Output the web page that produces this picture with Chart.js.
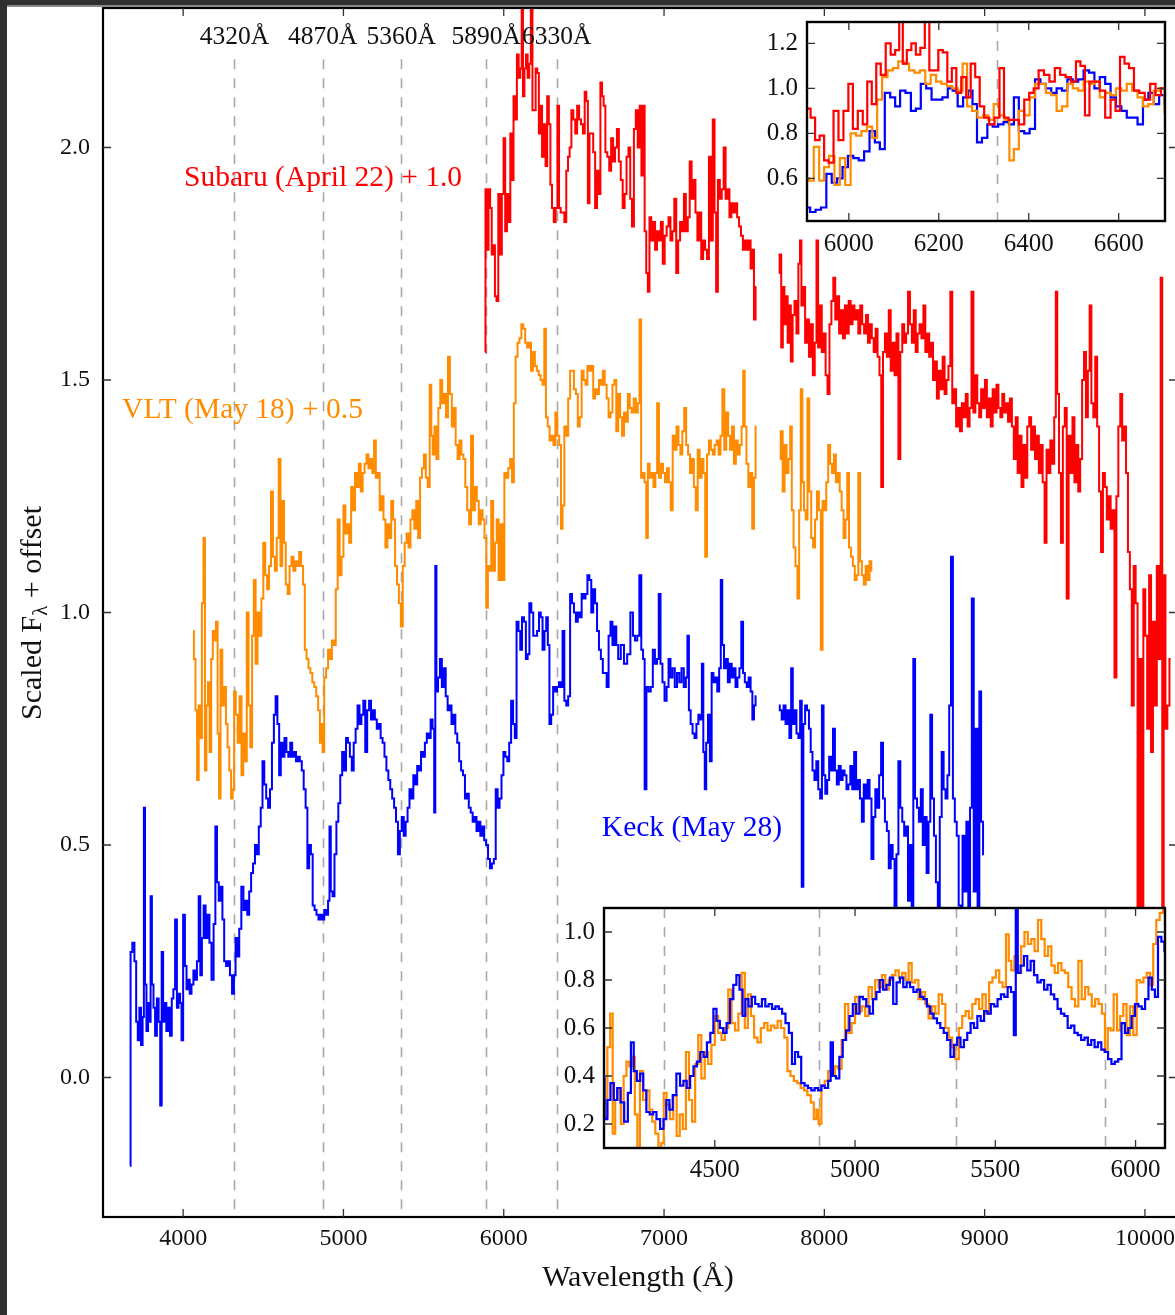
<!DOCTYPE html>
<html>
<head>
<meta charset="utf-8">
<script src="https://cdn.jsdelivr.net/npm/chart.js@4.4.1/dist/chart.umd.min.js"></script>
<style>
  html, body { margin: 0; padding: 0; background: #ffffff; overflow: hidden; width: 1175px; height: 1315px; }
  #wrap { position: relative; width: 1175px; height: 1315px; overflow: hidden; background: #ffffff; }
  canvas { position: absolute; }
  #mainC { left: 0; top: 0; }
  #insetB { left: 540px; top: 890px; }
  #insetT { left: 750px; top: 10px; }
  #barTop { position: absolute; left: 0; top: 0; width: 1175px; height: 5px; background: #2f2f2f; border-bottom: 2px solid #8a8a8a; }
  #barLeft { position: absolute; left: 0; top: 0; width: 7px; height: 1315px; background: #2f2f2f; }
</style>
</head>
<body>
<div id="wrap">
  <canvas id="mainC" width="1185" height="1315"></canvas>
  <canvas id="insetT" width="430" height="250"></canvas>
  <canvas id="insetB" width="640" height="300"></canvas>
  <div id="barTop"></div>
  <div id="barLeft"></div>
</div>
<script>
// ---------------- DATA ----------------
// Keck (May 28): [wavelength (Å), scaled flux]; null = gap
const keckSpec = [
[3668,-0.19],[3676,0.27],[3690,0.29],[3702,0.25],[3712,0.12],[3722,0.08],[3732,0.15],[3742,0.07],[3752,0.13],[3758,0.58],
[3766,0.20],[3776,0.10],[3786,0.16],[3794,0.12],[3800,0.39],[3810,0.20],[3820,0.15],[3830,0.09],[3842,0.17],[3852,0.12],
[3862,-0.06],[3870,0.27],[3880,0.12],[3890,0.16],[3900,0.10],[3912,0.15],[3924,0.09],[3934,0.17],[3944,0.19],[3956,0.34],
[3966,0.15],[3976,0.18],[3986,0.16],[3994,0.08],[4006,0.35],[4016,0.24],[4026,0.19],[4036,0.21],[4046,0.18],[4058,0.20],
[4070,0.23],[4080,0.21],[4092,0.25],[4102,0.39],[4112,0.22],[4122,0.30],[4134,0.37],[4146,0.30],[4158,0.35],[4170,0.29],
[4184,0.21],[4196,0.33],[4206,0.54],[4216,0.42],[4228,0.38],[4240,0.41],[4250,0.34],[4262,0.25],[4274,0.24],[4286,0.25],
[4298,0.22],[4312,0.18],[4322,0.22],[4332,0.30],[4344,0.26],[4356,0.32],[4370,0.41],[4382,0.36],[4394,0.38],[4406,0.35],
[4418,0.40],[4430,0.44],[4442,0.46],[4454,0.50],[4466,0.48],[4478,0.54],[4490,0.58],[4500,0.68],[4512,0.63],[4524,0.60],
[4536,0.58],[4548,0.62],[4560,0.72],[4572,0.78],[4582,0.82],[4594,0.76],[4604,0.65],[4614,0.72],[4626,0.69],[4638,0.73],
[4650,0.70],[4662,0.69],[4674,0.72],[4686,0.69],[4698,0.70],[4710,0.68],[4722,0.69],[4734,0.68],[4746,0.66],[4758,0.62],
[4770,0.58],[4780,0.45],[4792,0.50],[4802,0.48],[4814,0.37],[4826,0.36],[4838,0.35],[4850,0.34],[4862,0.35],[4874,0.34],
[4886,0.36],[4898,0.35],[4910,0.38],[4916,0.54],[4926,0.40],[4938,0.39],[4950,0.48],[4962,0.55],[4974,0.59],[4986,0.65],
[4998,0.70],[5010,0.66],[5022,0.73],[5034,0.72],[5046,0.69],[5058,0.66],[5070,0.72],[5082,0.75],[5094,0.80],[5106,0.76],
[5118,0.78],[5130,0.81],[5142,0.70],[5154,0.79],[5166,0.81],[5178,0.77],[5190,0.79],[5202,0.77],[5214,0.75],[5226,0.76],
[5238,0.73],[5250,0.72],[5262,0.69],[5274,0.66],[5286,0.64],[5298,0.62],[5310,0.60],[5322,0.58],[5334,0.55],[5346,0.48],
[5358,0.53],[5370,0.56],[5382,0.52],[5394,0.55],[5406,0.58],[5418,0.62],[5430,0.60],[5442,0.65],[5454,0.63],[5466,0.67],
[5478,0.66],[5490,0.70],[5502,0.69],[5514,0.72],[5526,0.74],[5538,0.73],[5550,0.77],[5562,0.75],[5570,0.57],[5576,1.10],
[5584,0.83],[5596,0.86],[5608,0.90],[5620,0.84],[5632,0.88],[5644,0.82],[5656,0.79],[5668,0.80],[5680,0.76],[5692,0.78],
[5704,0.74],[5716,0.72],[5728,0.68],[5740,0.66],[5752,0.65],[5764,0.60],[5776,0.61],[5788,0.58],[5800,0.57],[5812,0.55],
[5824,0.56],[5836,0.53],[5848,0.55],[5860,0.52],[5872,0.54],[5884,0.51],[5896,0.50],[5908,0.47],[5920,0.45],[5932,0.46],
[5944,0.47],[5956,0.62],[5968,0.58],[5980,0.60],[5992,0.65],[6004,0.70],[6016,0.69],[6028,0.68],[6040,0.72],[6052,0.81],
[6064,0.76],[6074,0.73],[6086,0.98],[6098,0.96],[6108,0.92],[6120,0.99],[6132,0.98],[6144,0.90],[6154,0.91],[6166,1.02],
[6178,1.00],[6190,0.95],[6202,0.95],[6214,0.96],[6226,1.00],[6236,0.99],[6248,0.92],[6260,0.96],[6270,0.99],[6280,0.93],
[6290,0.76],[6302,0.78],[6314,0.84],[6326,0.83],[6338,0.84],[6350,0.85],[6362,0.84],[6372,0.96],[6384,0.81],[6396,0.80],
[6408,0.82],[6420,1.04],[6432,1.02],[6444,1.00],[6456,0.98],[6468,1.00],[6480,0.99],[6492,1.04],[6504,1.03],[6516,1.04],
[6528,1.08],[6540,1.07],[6552,1.00],[6564,1.05],[6576,1.02],[6588,0.96],[6600,0.92],[6612,0.90],[6624,0.87],[6636,0.87],
[6648,0.84],[6660,0.95],[6672,0.98],[6684,0.93],[6696,0.97],[6708,0.93],[6720,0.90],[6740,0.93],[6760,0.89],[6780,0.91],
[6800,1.00],[6812,0.95],[6826,0.94],[6840,0.95],[6852,1.08],[6864,0.92],[6874,0.90],[6884,0.62],[6896,0.84],[6910,0.83],
[6924,0.84],[6936,0.92],[6950,0.89],[6962,0.90],[6972,1.04],[6984,0.89],[6996,0.85],[7010,0.81],[7022,0.84],[7034,0.90],
[7046,0.86],[7060,0.88],[7074,0.84],[7088,0.87],[7102,0.85],[7116,0.88],[7130,0.84],[7142,0.86],[7150,0.95],[7160,0.79],
[7172,0.76],[7184,0.74],[7196,0.73],[7208,0.76],[7220,0.78],[7232,0.77],[7240,0.89],[7250,0.70],[7258,0.62],[7268,0.72],
[7280,0.78],[7292,0.68],[7302,0.87],[7314,0.85],[7326,0.86],[7338,0.83],[7350,0.88],[7358,1.07],[7368,0.93],[7380,0.88],
[7392,0.90],[7404,0.85],[7416,0.89],[7428,0.86],[7440,0.88],[7452,0.84],[7464,0.86],[7476,0.88],[7488,0.98],[7498,0.87],
[7510,0.85],[7522,0.84],[7534,0.86],[7546,0.83],[7556,0.77],[7566,0.80],[7576,0.82],[7580,null],
[7716,0.80],[7728,0.79],[7740,0.77],[7752,0.80],[7764,0.76],[7776,0.79],[7788,0.73],[7798,0.88],[7808,0.76],[7820,0.79],
[7832,0.74],[7844,0.73],[7854,0.81],[7864,0.41],[7874,0.76],[7886,0.80],[7898,0.79],[7910,0.75],[7920,0.70],[7932,0.66],
[7944,0.64],[7956,0.68],[7968,0.62],[7980,0.60],[7990,0.80],[8000,0.65],[8012,0.61],[8024,0.64],[8036,0.69],[8048,0.66],
[8060,0.75],[8072,0.66],[8084,0.63],[8096,0.67],[8108,0.64],[8120,0.66],[8132,0.65],[8144,0.62],[8156,0.63],[8168,0.67],
[8180,0.62],[8192,0.70],[8204,0.62],[8216,0.64],[8228,0.60],[8240,0.55],[8252,0.63],[8264,0.60],[8276,0.64],[8288,0.60],
[8300,0.47],[8312,0.56],[8324,0.62],[8336,0.58],[8348,0.65],[8360,0.72],[8372,0.60],[8384,0.55],[8396,0.53],[8408,0.45],
[8420,0.50],[8432,0.47],[8444,0.36],[8456,0.48],[8468,0.68],[8480,0.58],[8492,0.55],[8504,0.52],[8516,0.54],[8528,0.38],
[8540,0.50],[8550,0.30],[8560,0.90],[8572,0.60],[8584,0.58],[8596,0.55],[8608,0.62],[8620,0.50],[8632,0.56],[8644,0.44],
[8656,0.55],[8666,0.78],[8678,0.60],[8690,0.52],[8702,0.42],[8714,0.20],[8726,0.56],[8738,0.70],[8750,0.62],[8762,0.60],
[8774,0.65],[8784,0.80],[8796,1.12],[8808,0.60],[8820,0.55],[8832,0.52],[8844,0.37],[8856,0.20],[8868,0.52],[8880,0.40],
[8892,0.55],[8904,0.28],[8914,0.58],[8926,1.03],[8938,0.40],[8950,0.75],[8962,0.22],[8972,0.83],[8984,0.55],[8996,0.48]
];

// VLT (May 18): [wavelength (Å), scaled flux]
const vltSpec = [
[4062,0.46],[4072,0.40],[4082,0.29],[4092,0.14],[4102,0.30],[4112,0.23],[4122,0.52],[4132,0.66],[4140,0.16],[4150,0.30],
[4160,0.35],[4170,0.20],[4180,0.40],[4190,0.46],[4200,0.44],[4210,0.48],[4220,0.24],[4228,0.10],[4238,0.42],[4250,0.30],
[4262,0.34],[4272,0.26],[4282,0.21],[4294,0.16],[4304,0.10],[4314,0.12],[4322,0.33],[4334,0.28],[4346,0.22],[4358,0.32],
[4370,0.15],[4380,0.24],[4392,0.18],[4402,0.50],[4414,0.30],[4424,0.21],[4436,0.45],[4446,0.57],[4458,0.39],[4470,0.50],
[4482,0.45],[4494,0.53],[4506,0.65],[4518,0.58],[4530,0.55],[4542,0.60],[4554,0.76],[4566,0.62],[4578,0.59],[4590,0.66],
[4602,0.83],[4612,0.60],[4624,0.74],[4634,0.65],[4646,0.56],[4658,0.54],[4670,0.60],[4682,0.62],[4694,0.59],[4706,0.61],
[4718,0.60],[4730,0.63],[4742,0.60],[4754,0.56],[4764,0.42],[4776,0.40],[4788,0.38],[4800,0.37],[4812,0.35],[4824,0.34],
[4836,0.32],[4848,0.29],[4858,0.22],[4866,0.26],[4874,0.20],[4886,0.36],[4898,0.38],[4910,0.42],[4922,0.40],[4934,0.44],
[4946,0.43],[4958,0.55],[4970,0.70],[4982,0.58],[4994,0.62],[5006,0.73],[5018,0.67],[5030,0.69],[5042,0.65],[5054,0.77],
[5066,0.72],[5078,0.80],[5090,0.77],[5102,0.82],[5114,0.76],[5126,0.80],[5138,0.82],[5150,0.84],[5162,0.81],[5174,0.83],
[5186,0.80],[5196,0.87],[5208,0.79],[5220,0.80],[5232,0.72],[5244,0.75],[5256,0.70],[5268,0.64],[5280,0.69],[5292,0.66],
[5304,0.74],[5316,0.70],[5328,0.60],[5340,0.56],[5352,0.52],[5364,0.47],[5376,0.60],[5388,0.65],[5400,0.67],[5412,0.64],
[5424,0.70],[5436,0.72],[5448,0.68],[5460,0.74],[5472,0.66],[5484,0.79],[5496,0.81],[5508,0.84],[5520,0.79],[5532,0.77],
[5544,0.99],[5552,0.88],[5562,0.84],[5574,0.90],[5586,0.83],[5598,0.94],[5610,1.00],[5622,0.95],[5634,0.97],[5646,0.92],
[5658,1.05],[5670,0.97],[5682,0.90],[5694,0.94],[5706,0.86],[5718,0.83],[5730,0.87],[5742,0.84],[5754,0.83],[5766,0.77],
[5778,0.72],[5790,0.69],[5802,0.88],[5814,0.72],[5826,0.77],[5838,0.74],[5850,0.69],[5862,0.72],[5874,0.70],[5886,0.66],
[5896,0.51],[5906,0.60],[5916,0.59],[5928,0.74],[5940,0.59],[5950,0.65],[5962,0.70],[5974,0.57],[5986,0.69],[5998,0.57],
[6010,0.80],[6022,0.79],[6034,0.81],[6046,0.83],[6058,0.78],[6068,0.95],[6080,1.05],[6092,1.08],[6104,1.09],[6116,1.12],
[6128,1.11],[6140,1.08],[6152,1.07],[6164,1.08],[6176,1.02],[6188,1.06],[6200,1.03],[6212,1.02],[6224,1.01],[6236,1.00],
[6248,0.99],[6258,1.11],[6268,0.92],[6280,0.90],[6292,0.87],[6304,0.88],[6316,0.86],[6328,0.93],[6340,0.88],[6352,0.86],
[6362,0.68],[6372,0.73],[6384,0.90],[6396,0.88],[6408,0.96],[6420,1.02],[6432,1.02],[6444,0.98],[6456,0.97],[6468,0.90],
[6480,0.92],[6492,1.02],[6504,1.00],[6516,0.99],[6528,1.03],[6540,1.02],[6552,1.03],[6564,0.96],[6576,0.98],[6588,0.97],
[6600,1.00],[6612,0.99],[6624,1.02],[6636,0.99],[6648,0.96],[6660,0.92],[6672,0.93],[6684,0.99],[6696,1.00],[6708,0.89],
[6720,0.97],[6732,0.92],[6744,0.88],[6756,0.93],[6768,0.91],[6780,0.97],[6792,0.94],[6804,0.93],[6818,0.96],[6830,0.93],
[6842,0.95],[6852,1.13],[6862,0.79],[6872,0.80],[6884,0.78],[6894,0.66],[6904,0.82],[6916,0.79],[6928,0.80],[6940,0.77],
[6952,0.80],[6962,0.95],[6974,0.79],[6988,0.82],[7000,0.80],[7012,0.78],[7024,0.81],[7036,0.78],[7048,0.72],[7060,0.88],
[7072,0.85],[7084,0.90],[7096,0.86],[7108,0.84],[7120,0.89],[7132,0.94],[7144,0.86],[7156,0.84],[7168,0.80],[7180,0.83],
[7192,0.77],[7204,0.72],[7216,0.85],[7228,0.79],[7240,0.83],[7252,0.80],[7262,0.62],[7274,0.84],[7286,0.87],[7298,0.85],
[7310,0.84],[7322,0.86],[7334,0.87],[7346,0.84],[7358,0.88],[7370,0.98],[7382,0.85],[7394,0.93],[7406,0.88],[7418,0.85],
[7430,0.90],[7442,0.82],[7454,0.87],[7466,0.84],[7478,0.86],[7490,0.90],[7498,1.02],[7508,0.90],[7520,0.82],[7532,0.77],
[7544,0.80],[7556,0.68],[7566,0.79],[7576,0.90],[7582,null],
[7722,0.83],[7734,0.89],[7746,0.76],[7758,0.86],[7770,0.80],[7782,0.83],[7792,0.90],[7802,0.72],[7814,0.64],[7826,0.60],
[7838,0.53],[7848,0.72],[7858,0.98],[7868,0.78],[7878,0.72],[7890,0.70],[7900,0.96],[7912,0.76],[7924,0.66],[7936,0.64],
[7948,0.70],[7960,0.76],[7972,0.72],[7984,0.42],[7994,0.74],[8006,0.72],[8018,0.78],[8030,0.86],[8042,0.82],[8054,0.80],
[8066,0.84],[8078,0.78],[8090,0.80],[8102,0.76],[8114,0.72],[8126,0.66],[8138,0.70],[8148,0.80],[8160,0.64],[8172,0.62],
[8184,0.60],[8196,0.57],[8206,0.58],[8218,0.80],[8228,0.61],[8240,0.58],[8252,0.56],[8264,0.60],[8276,0.57],[8288,0.61],
[8298,0.59]
];

// Subaru (April 22): [wavelength (Å), scaled flux]
const subaruSpec = [
[5882,0.56],[5890,0.91],[5900,0.78],[5910,0.91],[5920,0.87],[5930,0.77],[5940,0.79],[5950,0.68],[5960,0.67],[5972,0.90],
[5982,0.77],[5994,0.90],[6004,1.02],[6014,0.82],[6026,0.90],[6036,0.84],[6046,1.03],[6056,0.93],[6066,1.11],[6076,1.06],
[6088,1.20],[6098,1.15],[6108,1.17],[6116,1.32],[6124,1.11],[6134,1.17],[6144,1.20],[6154,1.15],[6164,1.18],[6174,1.32],
[6184,1.08],[6194,1.08],[6204,1.17],[6214,1.16],[6224,1.03],[6234,1.09],[6244,0.98],[6256,1.05],[6266,0.96],[6276,1.11],
[6286,1.05],[6296,0.92],[6306,0.87],[6318,0.84],[6330,0.87],[6340,1.09],[6350,0.87],[6360,0.86],[6372,0.86],[6384,0.84],
[6396,0.95],[6406,0.98],[6416,1.00],[6428,1.08],[6440,1.06],[6452,1.03],[6464,1.09],[6476,1.06],[6488,1.05],[6500,1.03],
[6510,1.12],[6520,1.10],[6530,0.88],[6540,1.03],[6552,1.03],[6564,0.99],[6576,0.87],[6588,0.95],[6598,0.90],[6608,1.14],
[6618,1.11],[6628,1.09],[6640,0.99],[6652,0.98],[6664,0.95],[6676,1.02],[6688,0.97],[6700,1.00],[6712,1.04],[6724,0.97],
[6736,0.93],[6748,0.87],[6760,0.90],[6772,0.98],[6784,1.00],[6794,0.89],[6806,0.83],[6818,1.04],[6830,1.08],[6842,1.00],
[6854,1.09],[6864,0.94],[6874,1.09],[6884,0.82],[6894,0.73],[6904,0.69],[6914,0.85],[6926,0.80],[6938,0.84],[6950,0.78],
[6962,0.82],[6974,0.80],[6986,0.84],[6998,0.75],[7010,0.81],[7022,0.83],[7034,0.85],[7046,0.80],[7058,0.82],[7070,0.89],
[7082,0.73],[7094,0.80],[7106,0.84],[7118,0.82],[7130,0.90],[7142,0.82],[7154,0.85],[7166,0.97],[7178,0.89],[7190,0.93],
[7202,0.86],[7214,0.80],[7226,0.86],[7238,0.76],[7250,0.80],[7262,0.78],[7274,0.76],[7286,0.98],[7298,0.80],[7310,1.06],
[7320,0.86],[7330,0.69],[7342,0.93],[7354,0.89],[7366,0.91],[7378,1.00],[7390,0.89],[7402,0.91],[7414,0.85],[7426,0.88],
[7438,0.86],[7450,0.88],[7462,0.85],[7474,0.83],[7486,0.81],[7498,0.78],[7510,0.80],[7522,0.78],[7534,0.80],[7546,0.74],
[7556,0.78],[7566,0.63],[7576,0.70],[7582,null],
[7716,0.73],[7726,0.77],[7736,0.57],[7746,0.70],[7756,0.62],[7766,0.68],[7776,0.58],[7786,0.66],[7796,0.54],[7808,0.64],
[7820,0.67],[7832,0.60],[7844,0.75],[7852,0.80],[7862,0.66],[7874,0.70],[7886,0.58],[7898,0.63],[7910,0.55],[7922,0.62],
[7934,0.51],[7946,0.58],[7956,0.80],[7966,0.57],[7978,0.66],[7990,0.56],[8002,0.60],[8014,0.51],[8026,0.47],[8038,0.62],
[8050,0.67],[8062,0.72],[8074,0.63],[8086,0.68],[8098,0.60],[8110,0.65],[8122,0.59],[8134,0.66],[8146,0.60],[8158,0.67],
[8170,0.62],[8182,0.66],[8194,0.63],[8206,0.65],[8218,0.60],[8230,0.66],[8242,0.62],[8254,0.60],[8266,0.64],[8278,0.58],
[8290,0.62],[8302,0.59],[8314,0.56],[8326,0.61],[8338,0.55],[8350,0.51],[8360,0.27],[8372,0.56],[8384,0.60],[8396,0.55],
[8408,0.65],[8420,0.52],[8432,0.58],[8444,0.51],[8456,0.60],[8468,0.33],[8480,0.56],[8492,0.62],[8504,0.58],[8516,0.60],
[8528,0.69],[8540,0.62],[8552,0.58],[8564,0.65],[8576,0.56],[8588,0.60],[8600,0.62],[8612,0.59],[8624,0.66],[8636,0.56],
[8648,0.60],[8660,0.55],[8672,0.58],[8684,0.50],[8696,0.54],[8708,0.46],[8720,0.52],[8732,0.48],[8744,0.55],[8756,0.47],
[8768,0.50],[8780,0.53],[8792,0.69],[8804,0.45],[8816,0.48],[8828,0.40],[8840,0.44],[8852,0.39],[8864,0.45],[8876,0.42],
[8888,0.47],[8900,0.40],[8912,0.44],[8924,0.69],[8936,0.43],[8948,0.51],[8960,0.45],[8972,0.42],[8984,0.48],[8996,0.44],
[9008,0.50],[9020,0.42],[9032,0.46],[9044,0.40],[9056,0.48],[9068,0.43],[9080,0.49],[9092,0.44],[9104,0.42],[9116,0.47],
[9128,0.43],[9140,0.45],[9152,0.41],[9164,0.46],[9176,0.40],[9188,0.33],[9200,0.42],[9212,0.30],[9224,0.38],[9236,0.27],
[9248,0.36],[9260,0.29],[9272,0.40],[9284,0.42],[9296,0.35],[9308,0.40],[9320,0.33],[9332,0.38],[9344,0.30],[9356,0.36],
[9368,0.28],[9380,0.15],[9392,0.35],[9404,0.30],[9416,0.37],[9428,0.32],[9440,0.42],[9448,0.69],[9458,0.47],[9470,0.30],
[9482,0.15],[9494,0.40],[9506,0.44],[9518,0.03],[9530,0.38],[9542,0.30],[9554,0.42],[9566,0.28],[9578,0.36],[9590,0.26],
[9602,0.33],[9614,0.50],[9626,0.56],[9638,0.42],[9650,0.52],[9660,0.66],[9672,0.45],[9684,0.42],[9696,0.55],[9708,0.40],
[9720,0.26],[9732,0.13],[9744,0.30],[9756,0.27],[9768,0.20],[9780,0.25],[9792,0.18],[9804,0.22],[9816,-0.14],[9828,0.25],
[9840,0.40],[9852,0.47],[9864,0.37],[9876,0.40],[9888,0.30],[9900,0.13],[9912,0.05],[9924,-0.20],[9936,0.10],[9948,0.02],
[9960,-0.80],[9972,-0.10],[9984,-0.80],[9996,0.05],[10008,-0.05],[10020,-0.25],[10032,0.08],[10044,-0.30],[10056,-0.02],[10068,-0.20],
[10080,0.10],[10092,-0.10],[10104,0.72],[10112,-0.70],[10122,0.08],[10134,-0.25],[10146,-0.20],[10160,-0.10]
];

const keckOffset = 0.0;
const vltOffset = 0.5;
const subaruOffset = 1.0;

const seriesNames = ['Keck (May 28)', 'VLT (May 18) + 0.5', 'Subaru (April 22) + 1.0'];
const seriesColors = ['#0000ff', '#ff8c00', '#ff0000'];

const lineWaves = [4320, 4870, 5360, 5890, 6330];
const lineLabels = ['4320Å', '4870Å', '5360Å', '5890Å', '6330Å'];

const mainXTicks = [4000, 5000, 6000, 7000, 8000, 9000, 10000];
const mainYTicks = [0.0, 0.5, 1.0, 1.5, 2.0];
const insetBXTicks = [4500, 5000, 5500, 6000];
const insetBYTicks = [0.2, 0.4, 0.6, 0.8, 1.0];
const insetTXTicks = [6000, 6200, 6400, 6600];
const insetTYTicks = [0.6, 0.8, 1.0, 1.2];

// ---------------- HELPERS ----------------
const SERIF = '"Liberation Serif", "Times New Roman", "DejaVu Serif", serif';
function toXY(spec, off) {
  return spec.map(([w, f]) => ({ x: w, y: f === null ? null : f + off }));
}
function lineDs(spec, off, color, width) {
  return {
    data: toXY(spec, off), borderColor: color, borderWidth: width,
    stepped: 'middle', pointRadius: 0, fill: false, spanGaps: false, tension: 0
  };
}

const framePlugin = {
  id: 'framePlugin',
  beforeDraw(chart, args, o) {
    const { ctx, chartArea: a } = chart;
    if (o.whiteBg) {
      ctx.save(); ctx.fillStyle = '#ffffff';
      ctx.fillRect(a.left, a.top, a.right - a.left, a.bottom - a.top);
      ctx.restore();
    }
  },
  beforeDatasetsDraw(chart, args, o) {
    const { ctx, chartArea: a, scales: { x, y } } = chart;
    ctx.save();
    ctx.strokeStyle = '#a8a8a8'; ctx.lineWidth = 1.6; ctx.setLineDash([10, 9]);
    const topPx = o.dashTop !== undefined ? y.getPixelForValue(o.dashTop) : a.top;
    for (const w of (o.dashWaves || [])) {
      const px = Math.round(x.getPixelForValue(w)) + 0.5;
      if (px < a.left || px > a.right) continue;
      ctx.beginPath(); ctx.moveTo(px, Math.max(topPx, a.top)); ctx.lineTo(px, a.bottom); ctx.stroke();
    }
    ctx.restore();
  },
  afterDatasetsDraw(chart, args, o) {
    const { ctx, chartArea: a, scales: { x, y } } = chart;
    ctx.save();
    ctx.strokeStyle = '#000'; ctx.lineWidth = o.frameWidth || 2;
    ctx.strokeRect(a.left, a.top, a.right - a.left, a.bottom - a.top);
    ctx.lineWidth = 1.3; ctx.strokeStyle = '#333';
    const L = o.tickLen || 8;
    for (const t of o.xTicks) {
      const px = x.getPixelForValue(t);
      ctx.beginPath(); ctx.moveTo(px, a.bottom); ctx.lineTo(px, a.bottom - L);
      ctx.moveTo(px, a.top); ctx.lineTo(px, a.top + L); ctx.stroke();
    }
    for (const t of o.yTicks) {
      const py = y.getPixelForValue(t);
      ctx.beginPath(); ctx.moveTo(a.left, py); ctx.lineTo(a.left + L, py);
      ctx.moveTo(a.right, py); ctx.lineTo(a.right - L, py); ctx.stroke();
    }
    ctx.restore();
  }
};

const textPlugin = {
  id: 'textPlugin',
  afterDraw(chart) {
    const { ctx, chartArea: a, scales: { x, y } } = chart;
    ctx.save();
    ctx.fillStyle = '#111';
    ctx.font = '25.5px ' + SERIF; ctx.textAlign = 'center'; ctx.textBaseline = 'middle';
    lineWaves.forEach((w, i) => ctx.fillText(lineLabels[i], x.getPixelForValue(w), 37));
    ctx.font = '29.5px ' + SERIF; ctx.textAlign = 'left';
    ctx.fillStyle = seriesColors[2]; ctx.fillText(seriesNames[2], x.getPixelForValue(4006), y.getPixelForValue(1.933));
    ctx.fillStyle = seriesColors[1]; ctx.fillText(seriesNames[1], x.getPixelForValue(3619), y.getPixelForValue(1.435));
    ctx.fillStyle = seriesColors[0]; ctx.fillText(seriesNames[0], x.getPixelForValue(6612), y.getPixelForValue(0.535));
    ctx.fillStyle = '#111'; ctx.textAlign = 'center';
    ctx.font = '30px ' + SERIF;
    ctx.fillText('Wavelength (Å)', 638, 1278);
    ctx.translate(33, 613); ctx.rotate(-Math.PI / 2);
    const p1 = 'Scaled F', sub = 'λ', p2 = ' + offset';
    ctx.font = '30px ' + SERIF; const w1 = ctx.measureText(p1).width, w3 = ctx.measureText(p2).width;
    ctx.font = '21px ' + SERIF; const w2 = ctx.measureText(sub).width;
    let sx = -(w1 + w2 + w3) / 2;
    ctx.textAlign = 'left';
    ctx.font = '30px ' + SERIF; ctx.fillText(p1, sx, 0); sx += w1;
    ctx.font = '21px ' + SERIF; ctx.fillText(sub, sx, 8); sx += w2;
    ctx.font = '30px ' + SERIF; ctx.fillText(p2, sx, 0);
    ctx.restore();
  }
};

function axisCfg(min, max, ticksArr, size, isX, pad, fontSize, fmt) {
  return {
    type: 'linear', min, max,
    grid: { display: false, drawTicks: false }, border: { display: false },
    afterBuildTicks: s => { s.ticks = ticksArr.map(v => ({ value: v })); },
    afterFit: s => {
      if (isX) s.height = size; else s.width = size;
      s.paddingTop = 0; s.paddingBottom = 0; s.paddingLeft = 0; s.paddingRight = 0;
    },
    ticks: { font: { family: SERIF, size: fontSize }, color: '#111', padding: pad, maxRotation: 0, autoSkip: false,
             callback: fmt }
  };
}

// ---------------- MAIN CHART ----------------
new Chart(document.getElementById('mainC'), {
  type: 'line',
  data: {
    datasets: [
      lineDs(keckSpec, keckOffset, seriesColors[0], 2),
      lineDs(vltSpec, vltOffset, seriesColors[1], 2),
      lineDs(subaruSpec, subaruOffset, seriesColors[2], 2)
    ]
  },
  options: {
    responsive: false, animation: false, devicePixelRatio: 1,
    layout: { padding: { left: 0, right: 8, top: 8, bottom: 0 } },
    plugins: {
      legend: { display: false }, tooltip: { enabled: false },
      framePlugin: { xTicks: mainXTicks, yTicks: mainYTicks, dashWaves: lineWaves, dashTop: 2.19, tickLen: 8, frameWidth: 2.2 }
    },
    scales: {
      x: axisCfg(3500, 10200, mainXTicks, 98, true, 7, 24, v => String(v)),
      y: axisCfg(-0.3, 2.3, mainYTicks, 103, false, 13, 24, v => v.toFixed(1))
    }
  },
  plugins: [framePlugin, textPlugin]
});

// ---------------- BOTTOM INSET ----------------
new Chart(document.getElementById('insetB'), {
  type: 'line',
  data: {
    datasets: [
      lineDs(keckSpec, keckOffset, seriesColors[0], 2.2),
      lineDs(vltSpec, 0, seriesColors[1], 2.2)
    ]
  },
  options: {
    responsive: false, animation: false, devicePixelRatio: 1,
    layout: { padding: { left: 0, right: 15, top: 18, bottom: 0 } },
    plugins: {
      legend: { display: false }, tooltip: { enabled: false },
      framePlugin: { whiteBg: true, xTicks: insetBXTicks, yTicks: insetBYTicks, dashWaves: lineWaves.slice(0, 4), tickLen: 8, frameWidth: 2.4 }
    },
    scales: {
      x: axisCfg(4105, 6105, insetBXTicks, 42, true, 7, 25, v => String(v)),
      y: axisCfg(0.1, 1.1, insetBYTicks, 64, false, 9, 25, v => v.toFixed(1))
    }
  },
  plugins: [framePlugin]
});

// ---------------- TOP INSET ----------------
new Chart(document.getElementById('insetT'), {
  type: 'line',
  data: {
    datasets: [
      lineDs(subaruSpec, 0, seriesColors[2], 2.2),
      lineDs(vltSpec, 0, seriesColors[1], 2.2),
      lineDs(keckSpec, keckOffset, seriesColors[0], 2.2)
    ]
  },
  options: {
    responsive: false, animation: false, devicePixelRatio: 1,
    layout: { padding: { left: 0, right: 15, top: 12, bottom: 0 } },
    plugins: {
      legend: { display: false }, tooltip: { enabled: false },
      framePlugin: { whiteBg: true, xTicks: insetTXTicks, yTicks: insetTYTicks, dashWaves: [lineWaves[4]], tickLen: 8, frameWidth: 2.4 }
    },
    scales: {
      x: axisCfg(5907, 6703, insetTXTicks, 39, true, 8, 25, v => String(v)),
      y: axisCfg(0.41, 1.295, insetTYTicks, 57, false, 9, 25, v => v.toFixed(1))
    }
  },
  plugins: [framePlugin]
});
</script>
</body>
</html>
